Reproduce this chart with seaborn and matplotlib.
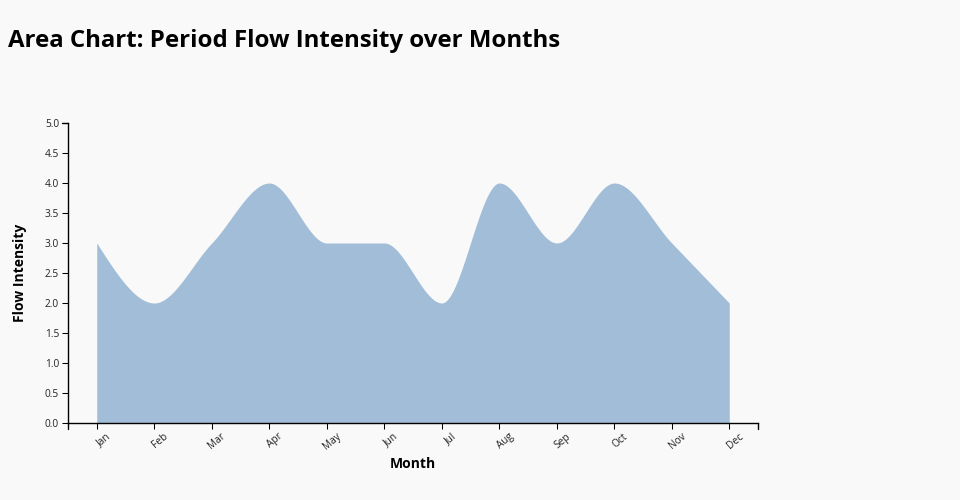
import numpy as np
import pandas as pd
import seaborn as sns
import matplotlib.pyplot as plt
from matplotlib.transforms import offset_copy

months = ['Jan', 'Feb', 'Mar', 'Apr', 'May', 'Jun', 'Jul', 'Aug', 'Sep', 'Oct', 'Nov', 'Dec']
flow = [3, 2, 3, 4, 3, 3, 2, 4, 3, 4, 3, 2]
y_ticks = [0.0, 0.5, 1.0, 1.5, 2.0, 2.5, 3.0, 3.5, 4.0, 4.5, 5.0]


def monotone_x(x, y, n=40):
    # same smoothing as d3.curveMonotoneX
    x = np.asarray(x, float)
    y = np.asarray(y, float)
    h = np.diff(x)
    s = np.diff(y) / h
    t = np.zeros(len(x))
    for i in range(1, len(x) - 1):
        p = (s[i - 1] * h[i] + s[i] * h[i - 1]) / (h[i - 1] + h[i])
        t[i] = (np.sign(s[i - 1]) + np.sign(s[i])) * min(abs(s[i - 1]), abs(s[i]), 0.5 * abs(p))
    t[0] = (3 * s[0] - t[1]) / 2 if h[0] else 0
    t[-1] = (3 * s[-1] - t[-2]) / 2
    xs, ys = [], []
    for i in range(len(x) - 1):
        u = np.linspace(0, 1, n, endpoint=(i == len(x) - 2))
        dx = h[i] / 3
        p0, p1 = y[i], y[i] + dx * t[i]
        p2, p3 = y[i + 1] - dx * t[i + 1], y[i + 1]
        xs.append(x[i] + u * h[i])
        ys.append((1 - u) ** 3 * p0 + 3 * (1 - u) ** 2 * u * p1 + 3 * (1 - u) * u ** 2 * p2 + u ** 3 * p3)
    return np.concatenate(xs), np.concatenate(ys)


sns.set_style('white')
plt.rcParams['font.family'] = ['Open Sans', 'DejaVu Sans']
plt.rcParams['text.color'] = 'black'
plt.rcParams['axes.labelcolor'] = 'black'

df = pd.DataFrame({'month': months, 'flow': flow})
pos = np.arange(len(df))
cx, cy = monotone_x(pos, df['flow'])
curve = pd.DataFrame({'x': cx, 'y': cy})

fig = plt.figure(figsize=(9.6, 5), dpi=100, facecolor='#f9f9f9')
ax = fig.add_axes([68 / 960, 77 / 500, 690 / 960, 300 / 500])
ax.set_facecolor('#f9f9f9')

sns.lineplot(data=curve, x='x', y='y', ax=ax, color='#a2bdd8', linewidth=0)
ax.fill_between(curve['x'], 0, curve['y'], color='#a2bdd8', linewidth=0)

ax.set_xlim(-0.5, len(months) - 0.5)
ax.set_ylim(0, 5)
ax.set_xticks(pos)
ax.set_xticklabels(months)
ax.set_yticks(y_ticks)
ax.set_yticklabels([f'{v:.1f}' for v in y_ticks])

for side in ['top', 'right']:
    ax.spines[side].set_visible(False)
for side in ['left', 'bottom']:
    ax.spines[side].set_color('black')
    ax.spines[side].set_linewidth(1)

ax.tick_params(axis='both', length=4.5, width=0.75, color='black', labelsize=7.3, labelcolor='#222', pad=2)
ax.tick_params(axis='x', bottom=True)
ax.tick_params(axis='y', left=True)
for lbl in ax.get_xticklabels():
    lbl.set_rotation(40)
    lbl.set_ha('right')
    lbl.set_va('top')
    lbl.set_rotation_mode('anchor')
    lbl.set_transform(offset_copy(lbl.get_transform(), fig=fig, x=9, y=1, units='dots'))

# outer ticks at the ends of the axes, like d3
for xe in [-0.5, len(months) - 0.5]:
    ax.plot([xe, xe], [0, -0.1], color='black', lw=1, clip_on=False, transform=ax.transData)
ax.plot([-0.5, -0.6], [5, 5], color='black', lw=1, clip_on=False)

ax.set_xlabel('Month', fontsize=10, fontweight='bold', labelpad=3.5)
ax.set_ylabel('Flow Intensity', fontsize=10, fontweight='bold', labelpad=13)

fig.text(8 / 960, 1 - 47 / 500, 'Area Chart: Period Flow Intensity over Months',
         fontsize=17.3, fontweight='bold', ha='left', va='baseline')

fig.savefig('out.png', dpi=100, facecolor=fig.get_facecolor())
